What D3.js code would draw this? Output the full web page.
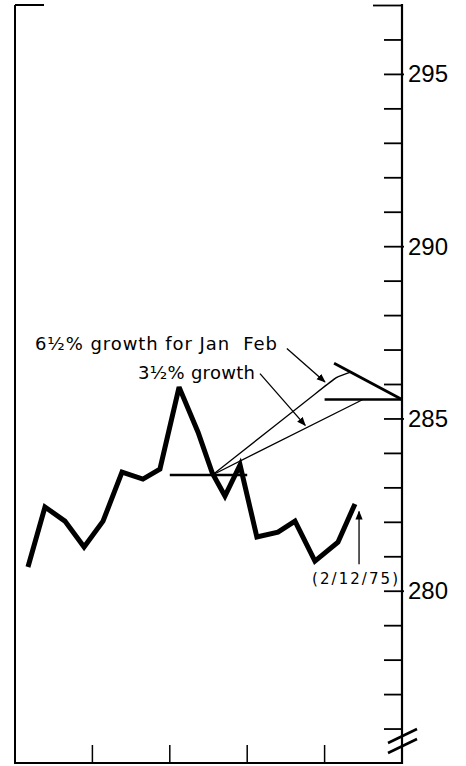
<!DOCTYPE html>
<html>
<head>
<meta charset="utf-8">
<script src="https://cdn.jsdelivr.net/npm/d3@7"></script>
<style>
  body { margin: 0; background: #fff; }
  svg { display: block; }
  text { font-family: "Liberation Sans", Arial, sans-serif; fill: #000; }
  .note { font-family: "DejaVu Sans", sans-serif; }
</style>
</head>
<body>
<svg id="canvas" width="466" height="766"></svg>
<script>
// weekly series, x in weeks from the left edge, value in $ billions
let weeks = [0.67, 1.55, 2.58, 3.57, 4.55, 5.53, 6.61, 7.49, 8.48, 9.46, 10.2, 10.85, 11.63, 12.5, 13.59, 14.47, 15.5, 16.69, 17.57]
let values = [280.69, 282.43, 282.02, 281.27, 282.02, 283.44, 283.24, 283.53, 285.91, 284.6, 283.41, 282.75, 283.65, 281.56, 281.70, 282.02, 280.86, 281.41, 282.52]

let monthTicks = [4, 8, 12, 16]
let valueTicks = d3.range(276, 298)
let labelTicks = [280, 285, 290, 295]

// base levels and growth paths
let baseJan = { from: 8, to: 12, value: 283.36 }
let baseFeb = { from: 16, to: 20, value: 285.55 }
let target = [[16.49, 286.6], [20, 285.55]]
let path65 = [[10.2, 283.36], [16.59, 286.19], [17.31, 286.34]]
let path35 = [[10.2, 283.36], [17.98, 285.55]]
let breaks = [275.58, 275.29]

let arrows = [
    { text: '6½% growth for Jan  Feb', tx: 35, ty: 350, len: 242, size: 18, from: [14.05, 287.03], to: [16.02, 286.06] },
    { text: '3½% growth', tx: 138, ty: 379, len: 117, size: 18, from: [12.66, 286.3], to: [15.0, 284.8] },
    { text: '(2/12/75)', tx: 312, ty: 584, len: 86, size: 15, from: [17.78, 280.77], to: [17.78, 282.3] }
]

let canvas = d3.select('#canvas')

let x = d3.scaleLinear().domain([0, 20]).range([15, 402])
let y = d3.scaleLinear().domain([275, 297]).range([763, 5])

let defs = canvas.append('defs')
defs.append('marker')
    .attr('id', 'head')
    .attr('viewBox', '0 0 10 10')
    .attr('refX', 9)
    .attr('refY', 5)
    .attr('markerWidth', 9)
    .attr('markerHeight', 9)
    .attr('markerUnits', 'userSpaceOnUse')
    .attr('orient', 'auto')
    .append('path')
    .attr('d', 'M0,1 L10,5 L0,9 Z')
    .attr('fill', '#000')

// frame
canvas.append('line')
    .attr('x1', x(0)).attr('x2', x(0))
    .attr('y1', y(297)).attr('y2', y(275))
    .attr('stroke', '#000').attr('stroke-width', 2)
canvas.append('line')
    .attr('x1', x(0) - 1).attr('x2', x(20) + 1)
    .attr('y1', y(275)).attr('y2', y(275))
    .attr('stroke', '#000').attr('stroke-width', 2)
canvas.append('line')
    .attr('x1', x(0)).attr('x2', x(0) + 29)
    .attr('y1', y(297)).attr('y2', y(297))
    .attr('stroke', '#000').attr('stroke-width', 2)

// right value axis, ticks pointing inward
let rightAxis = d3.axisLeft(y)
    .tickValues(valueTicks)
    .tickSize(18)
    .tickFormat('')

let ra = canvas.append('g')
    .attr('transform', 'translate(' + x(20) + ',0)')
    .call(rightAxis)
ra.select('.domain').remove()
ra.selectAll('.tick line')
    .attr('stroke-width', 1.8)
    .attr('x1', (d) => labelTicks.includes(d) ? 2 : 0)
    .attr('x2', (d) => d === 297 ? -29 : -18)
canvas.append('line')
    .attr('x1', x(20)).attr('x2', x(20))
    .attr('y1', y(297) - 1).attr('y2', y(275) + 1)
    .attr('stroke', '#000').attr('stroke-width', 2.2)

canvas.selectAll('.vlabel')
    .data(labelTicks)
    .enter()
    .append('text')
    .attr('class', 'vlabel')
    .attr('x', x(20) + 6)
    .attr('y', (d) => y(d) + 8.5)
    .attr('font-size', 24)
    .attr('textLength', 40)
    .attr('lengthAdjust', 'spacingAndGlyphs')
    .text((d) => d)

// axis break marks
canvas.selectAll('.brk')
    .data(breaks)
    .enter()
    .append('line')
    .attr('x1', x(20) - 14)
    .attr('x2', x(20) + 15)
    .attr('y1', (d) => y(d))
    .attr('y2', (d) => y(d) - 14)
    .attr('stroke', '#000')
    .attr('stroke-width', 2.6)

// month ticks along bottom
canvas.selectAll('.mtick')
    .data(monthTicks)
    .enter()
    .append('line')
    .attr('x1', (d) => x(d)).attr('x2', (d) => x(d))
    .attr('y1', y(275)).attr('y2', y(275) - 18)
    .attr('stroke', '#000').attr('stroke-width', 1.5)

// base level lines
canvas.selectAll('.base')
    .data([baseJan, baseFeb])
    .enter()
    .append('line')
    .attr('x1', (d) => x(d.from)).attr('x2', (d) => x(d.to))
    .attr('y1', (d) => y(d.value)).attr('y2', (d) => y(d.value))
    .attr('stroke', '#000').attr('stroke-width', 2.6)

let line = d3.line().x((d) => x(d[0])).y((d) => y(d[1]))

canvas.append('path')
    .attr('d', line(target))
    .attr('fill', 'none').attr('stroke', '#000').attr('stroke-width', 2.8)

canvas.append('path')
    .attr('d', line.curve(d3.curveBasis)([path65[0], path65[1], path65[1], path65[2]]))
    .attr('fill', 'none').attr('stroke', '#000').attr('stroke-width', 1.3)
line.curve(d3.curveLinear)

canvas.append('path')
    .attr('d', line(path35))
    .attr('fill', 'none').attr('stroke', '#000').attr('stroke-width', 1.3)

// the series
canvas.append('path')
    .attr('d', line(weeks.map((w, i) => [w, values[i]])))
    .attr('fill', 'none')
    .attr('stroke', '#000')
    .attr('stroke-width', 5)
    .attr('stroke-linejoin', 'miter')
    .attr('stroke-miterlimit', 3)

// notes and arrows
canvas.selectAll('.note')
    .data(arrows)
    .enter()
    .append('text')
    .attr('class', 'note')
    .attr('x', (d) => d.tx)
    .attr('y', (d) => d.ty)
    .attr('font-size', (d) => d.size)
    .attr('textLength', (d) => d.len)
    .attr('lengthAdjust', 'spacing')
    .style('white-space', 'pre')
    .text((d) => d.text)

canvas.selectAll('.arrow')
    .data(arrows)
    .enter()
    .append('line')
    .attr('x1', (d) => x(d.from[0])).attr('y1', (d) => y(d.from[1]))
    .attr('x2', (d) => x(d.to[0])).attr('y2', (d) => y(d.to[1]))
    .attr('stroke', '#000')
    .attr('stroke-width', 1.3)
    .attr('marker-end', 'url(#head)')
</script>
</body>
</html>
